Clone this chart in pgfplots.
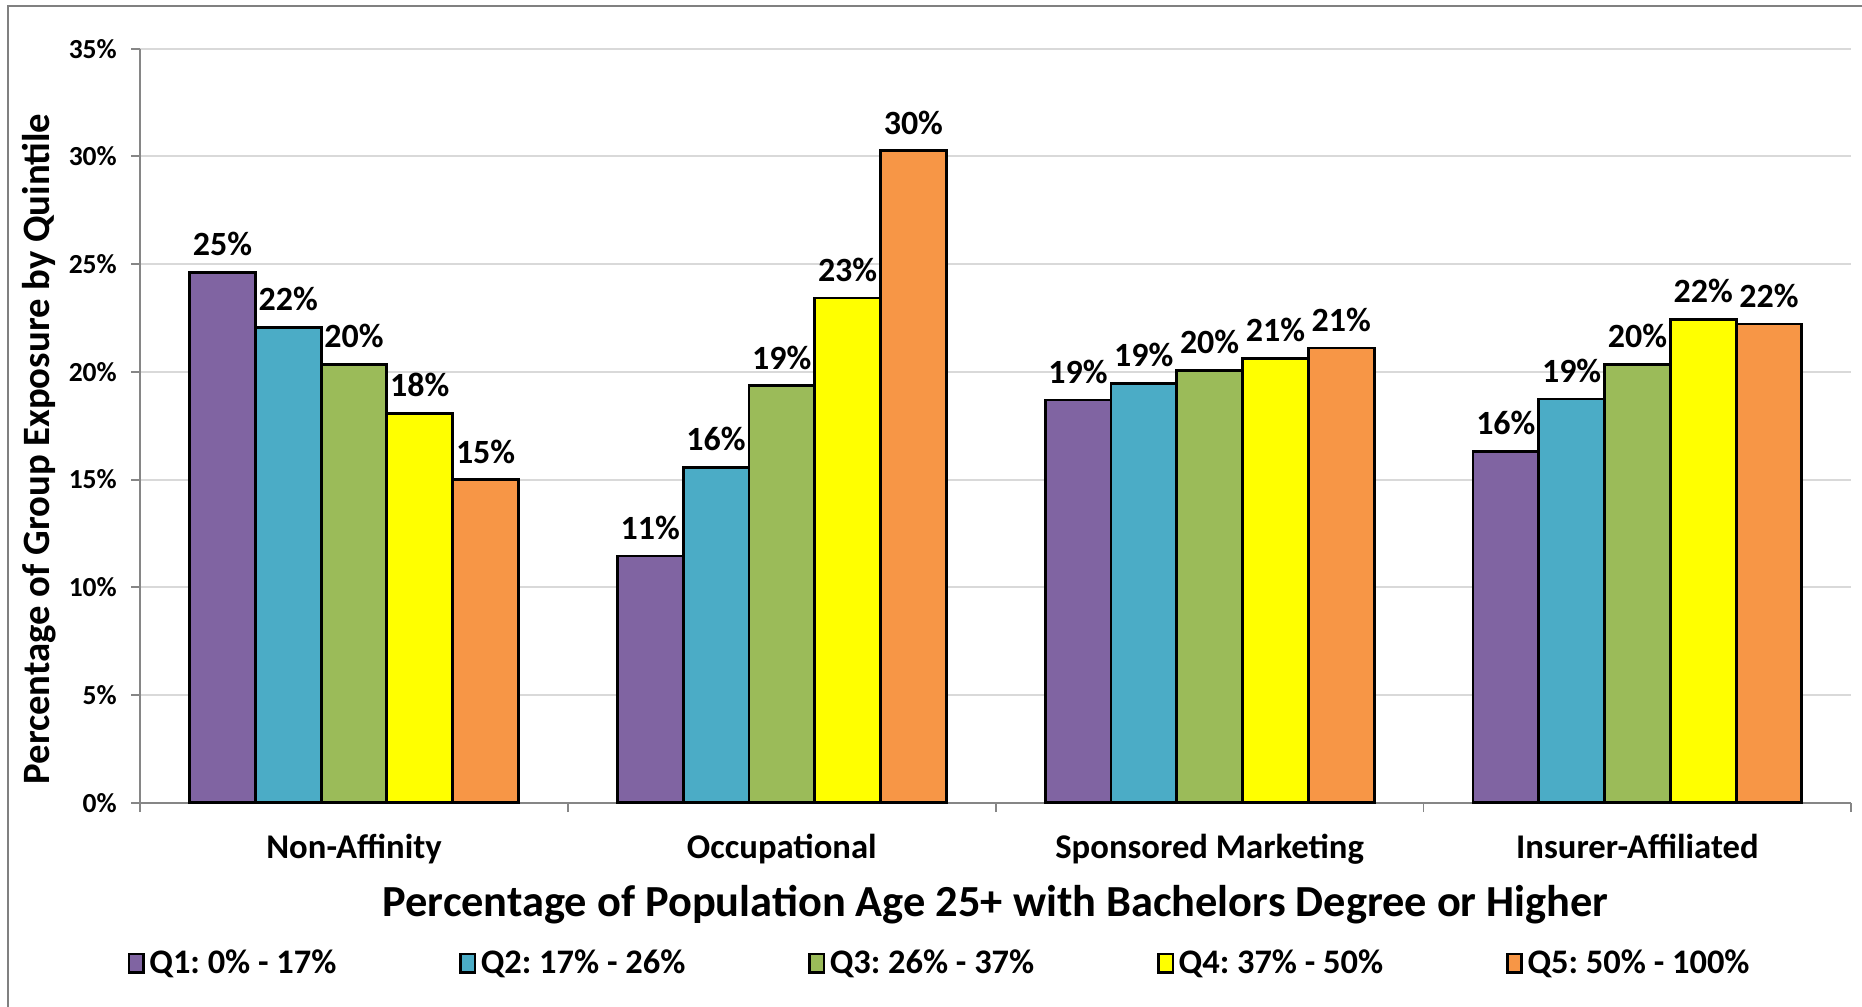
\documentclass[border=0pt]{standalone}
\usepackage{pgfplots}
\pgfplotsset{compat=1.18}
\usepackage{fontspec}
\setmainfont{Carlito}
\frenchspacing
\definecolor{cq1}{RGB}{128,100,162}
\definecolor{cq2}{RGB}{75,172,198}
\definecolor{cq3}{RGB}{155,187,89}
\definecolor{cq4}{RGB}{255,255,0}
\definecolor{cq5}{RGB}{247,150,70}
\definecolor{axisgray}{RGB}{134,134,134}
\definecolor{gridgray}{RGB}{217,217,217}
\begin{document}
\frenchspacing
\begin{tikzpicture}
\begin{axis}[name=ax, scale only axis, width=720.5pt, height=317.5pt,
  ymin=0, ymax=35, ytick={0,5,...,35},
  xmin=-0.5, xmax=3.5,
  ybar=0pt, bar width=27.7pt,
  axis x line*=bottom, axis y line*=left,
  axis line style={draw=axisgray, line width=0.8pt},
  ymajorgrids, grid style={draw=gridgray, line width=0.8pt},
  xtick={0,1,2,3},
  xticklabels={Non-Affinity, Occupational, Sponsored Marketing, Insurer-Affiliated},
  xtick style={draw=none},
  extra x ticks={-0.5,0.5,1.5,2.5,3.5}, extra x tick labels={},
  extra x tick style={xtick style={draw=axisgray, line width=0.8pt}, major tick length=4pt, tick align=outside},
  ytick style={draw=axisgray, line width=0.8pt},
  tick align=outside, major tick length=3.8pt,
  yticklabel={\pgfmathprintnumber{\tick}\%},
  /pgf/number format/assume math mode=true,
  yticklabel style={font=\bfseries\fontsize{11.6}{13}\selectfont, xshift=-2.5pt},
  xticklabel style={font=\bfseries\fontsize{14.6}{16}\selectfont, yshift=-6pt},
  nodes near coords={\pgfmathprintnumber[fixed,precision=0,assume math mode=true]{\pgfplotspointmeta}\%},
  nodes near coords style={font=\bfseries\fontsize{14.3}{16}\selectfont, text=black, yshift=3pt},
  every axis plot/.append style={draw=black, line width=1.2pt},
  legend image code/.code={\draw[#1,draw=black,line width=1pt] (0pt,-3.9pt) rectangle (6pt,3.9pt);},
  legend style={at={(axis description cs:-0.0115,-0.213)}, anchor=west, draw=none, fill=none,
    font=\bfseries\fontsize{14.5}{16}\selectfont,
    /tikz/every even column/.append style={column sep=49.8pt}},
  legend columns=5, legend cell align=left,
  clip=false,
]
\addplot[fill=cq1] coordinates {(0,24.6) (1,11.45) (2,18.69) (3,16.32)};
\addplot[fill=cq2] coordinates {(0,22.05) (1,15.55) (2,19.45) (3,18.74)};
\addplot[fill=cq3] coordinates {(0,20.34) (1,19.35) (2,20.07) (3,20.34)};
\addplot[fill=cq4] coordinates {(0,18.08) (1,23.43) (2,20.62) (3,22.44)};
\addplot[fill=cq5] coordinates {(0,14.99) (1,30.26) (2,21.11) (3,22.22)};
\legend{Q1: 0\% - 17\%, Q2: 17\% - 26\%, Q3: 26\% - 37\%, Q4: 37\% - 50\%, Q5: 50\% - 100\%}
\node[rotate=90, font=\bfseries\fontsize{16.3}{18}\selectfont] at (axis description cs:-0.059,0.469) {Percentage of Group Exposure by Quintile};
\node[font=\bfseries\fontsize{18.7}{20}\selectfont] at (axis description cs:0.5,-0.135) {Percentage of Population Age 25+ with Bachelors Degree or Higher};
\end{axis}
\pgfresetboundingbox
\path[use as bounding box] ([shift={(-59pt,-86pt)}]ax.south west) rectangle ([shift={(4.5pt,20.5pt)}]ax.north east);
\draw[draw=gray, line width=0.9pt] ([shift={(-55.5pt,-95pt)}]ax.south west) |- ([shift={(20pt,18pt)}]ax.north east);
\end{tikzpicture}
\end{document}
